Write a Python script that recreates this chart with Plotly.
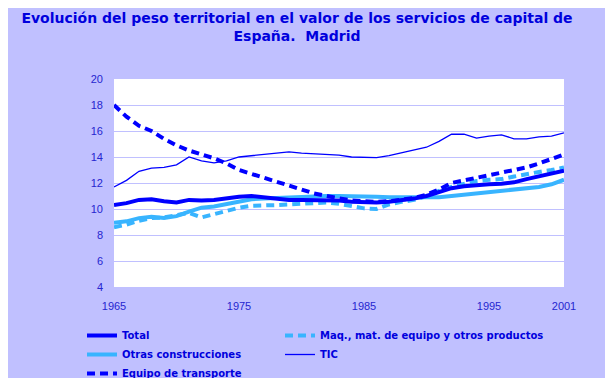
import plotly.graph_objects as go

# Years covered by the series
years = list(range(1965, 2002))

# Territorial share (%) of Madrid in Spain's capital services, by asset type
total = [10.3, 10.45, 10.7, 10.75, 10.6, 10.5, 10.7, 10.65, 10.7, 10.85, 10.95, 11.0, 10.9,
         10.8, 10.7, 10.7, 10.7, 10.7, 10.65, 10.55, 10.5, 10.5, 10.55, 10.65, 10.8,
         11.0, 11.3, 11.6, 11.75, 11.85, 11.9, 11.95, 12.05, 12.3, 12.5, 12.7, 12.95]
otras_construcciones = [8.95, 9.05, 9.3, 9.4, 9.3, 9.45, 9.8, 10.1, 10.2, 10.4, 10.6, 10.75, 10.8,
                        10.85, 10.9, 10.95, 11.0, 11.0, 11.0, 11.0, 11.0, 10.95, 10.9, 10.9, 10.85,
                        10.85, 10.9, 11.0, 11.1, 11.2, 11.3, 11.35, 11.45, 11.55, 11.7, 11.9, 12.25]
equipo_transporte = [18.0, 17.1, 16.4, 16.0, 15.4, 14.9, 14.5, 14.2, 13.9, 13.5, 13.0, 12.7, 12.4,
                     12.1, 11.8, 11.45, 11.2, 11.0, 10.8, 10.65, 10.6, 10.55, 10.6, 10.7, 10.85,
                     11.1, 11.5, 12.0, 12.2, 12.35, 12.55, 12.75, 12.95, 13.2, 13.5, 13.85, 14.2]
maquinaria = [8.6, 8.8, 9.1, 9.3, 9.35, 9.5, 9.7, 9.35, 9.6, 9.85, 10.1, 10.25, 10.25,
              10.3, 10.35, 10.4, 10.5, 10.5, 10.4, 10.2, 10.05, 10.0, 10.35, 10.55, 10.7,
              11.0, 11.4, 11.7, 11.95, 12.15, 12.25, 12.3, 12.5, 12.7, 12.85, 13.0, 13.2]
tic = [11.7, 12.2, 12.9, 13.15, 13.2, 13.4, 14.0, 13.7, 13.55, 13.7, 14.0, 14.1, 14.15,
       14.25, 14.4, 14.3, 14.25, 14.2, 14.15, 14.0, 13.95, 13.95, 14.1, 14.3, 14.5,
       14.75, 15.2, 15.75, 15.75, 15.45, 15.6, 15.7, 15.4, 15.4, 15.55, 15.6, 15.85]

x_ticks = [1965, 1975, 1985, 1995, 2001]
y_ticks = [4, 6, 8, 10, 12, 14, 16, 18, 20]

DARK = "#0000FF"
LIGHT = "#38B4FF"
LAVENDER = "#C0C0FF"
TEXT = "#0000DD"
TICK = "#2626D0"
FONT = "Liberation Sans"
BOLD_FONT = "DejaVu Sans"

fig = go.Figure()

series = [
    # name, values, colour, width, dash, legend, legend rank
    ("Otras construcciones", otras_construcciones, LIGHT, 4, "solid", "legend", 2),
    ("Maq., mat. de equipo y otros productos", maquinaria, LIGHT, 4, "8px,5px", "legend2", 1),
    ("Total", total, DARK, 4, "solid", "legend", 1),
    ("Equipo de transporte", equipo_transporte, DARK, 4, "8px,5px", "legend", 3),
    ("TIC", tic, DARK, 1.3, "solid", "legend2", 2),
]
for name, vals, color, width, dash, leg, rank in series:
    fig.add_trace(go.Scatter(
        x=years, y=vals, mode="lines", name=name, legend=leg, legendrank=rank,
        line=dict(color=color, width=width, dash=dash),
    ))

# plot area in pixels: x 114..564, y 79..287
L, R, T, B = 114, 41, 79, 91
W, H = 605, 378
pw, ph = W - L - R, H - T - B

def px_x(p):
    return (p - L) / pw

def px_y(p):
    return (H - B - p) / ph

# thin white frame along the top and left edges of the lavender panel
fig.add_shape(type="rect", xref="paper", yref="paper", layer="below",
              x0=px_x(0), x1=px_x(W), y0=px_y(0), y1=px_y(8),
              fillcolor="white", line_width=0)
fig.add_shape(type="rect", xref="paper", yref="paper", layer="below",
              x0=px_x(0), x1=px_x(8), y0=px_y(0), y1=px_y(H),
              fillcolor="white", line_width=0)

legend_font = dict(family=BOLD_FONT, size=10, color=TEXT, weight="bold")

fig.update_layout(
    width=W, height=H,
    margin=dict(l=L, r=R, t=T, b=B, autoexpand=False),
    paper_bgcolor=LAVENDER,
    plot_bgcolor="white",
    font=dict(family=FONT, color=TEXT, size=11),
    title=dict(
        text="<b>Evolución del peso territorial en el valor de los servicios de capital de<br>España.  Madrid</b>",
        x=297 / W, xanchor="center", xref="container",
        y=1 - 23 / H, yanchor="middle", yref="container",
        font=dict(family=BOLD_FONT, size=14, color=TEXT),
    ),
    xaxis=dict(
        range=[1965, 2001], tickvals=x_ticks, showgrid=False, zeroline=False,
        showline=False, ticks="", ticklabelstandoff=11,
        tickfont=dict(family=FONT, size=11, color=TICK),
    ),
    yaxis=dict(
        range=[4, 20], tickvals=y_ticks, showgrid=True, gridcolor=LAVENDER, gridwidth=1,
        zeroline=False, showline=False, ticks="", ticklabelstandoff=10,
        tickfont=dict(family=FONT, size=11, color=TICK),
    ),
    legend=dict(
        orientation="v", x=px_x(82), xanchor="left", y=px_y(321), yanchor="top",
        bgcolor="rgba(0,0,0,0)", font=legend_font, itemclick=False,
    ),
    legend2=dict(
        orientation="v", x=px_x(280), xanchor="left", y=px_y(321), yanchor="top",
        bgcolor="rgba(0,0,0,0)", font=legend_font, itemclick=False,
    ),
    showlegend=True,
)

fig.write_html("out.html")
